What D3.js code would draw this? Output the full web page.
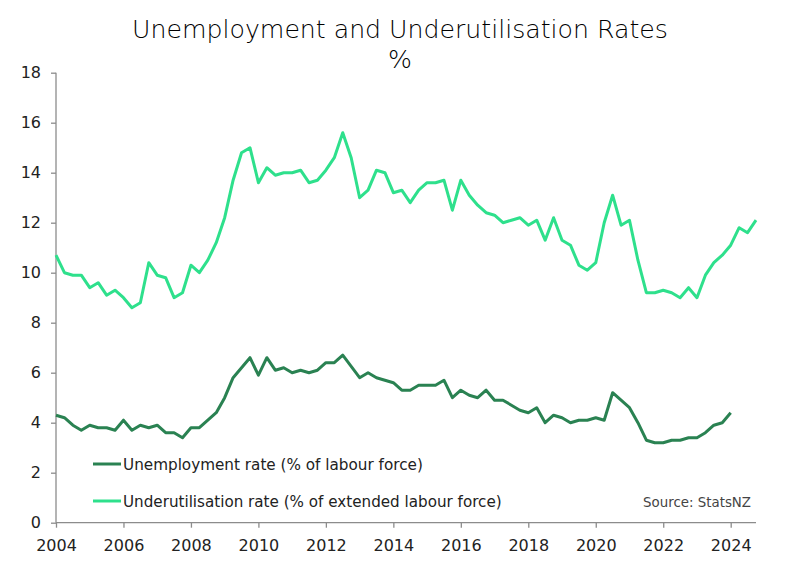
<!DOCTYPE html>
<html>
<head>
<meta charset="utf-8">
<script src="https://cdn.jsdelivr.net/npm/d3@7"></script>
<style>
  html, body { margin: 0; padding: 0; background: #fff; }
  svg { display: block; font-family: "DejaVu Sans", sans-serif; }
</style>
</head>
<body>
<svg id="chart" width="800" height="577"></svg>
<script>
// ---- data (quarterly, starting 2004 Q1) ----
const startYear = 2004;
const unemployment = [
  4.3,4.2,3.9,3.7,3.9,3.8,3.8,3.7,4.1,3.7,
  3.9,3.8,3.9,3.6,3.6,3.4,3.8,3.8,4.1,4.4,
  5.0,5.8,6.2,6.6,5.9,6.6,6.1,6.2,6.0,6.1,
  6.0,6.1,6.4,6.4,6.7,6.25,5.8,6.0,5.8,5.7,
  5.6,5.3,5.3,5.5,5.5,5.5,5.7,5.0,5.3,5.1,
  5.0,5.3,4.9,4.9,4.7,4.5,4.4,4.6,4.0,4.3,
  4.2,4.0,4.1,4.1,4.2,4.1,5.2,4.9,4.6,4.0,
  3.3,3.2,3.2,3.3,3.3,3.4,3.4,3.6,3.9,4.0,
  4.4
];
const underutilisation = [
  10.7,10.0,9.9,9.9,9.4,9.6,9.1,9.3,9.0,8.6,
  8.8,10.4,9.9,9.8,9.0,9.2,10.3,10.0,10.5,11.2,
  12.2,13.7,14.8,15.0,13.6,14.2,13.9,14.0,14.0,14.1,
  13.6,13.7,14.1,14.6,15.6,14.6,13.0,13.3,14.1,14.0,
  13.2,13.3,12.8,13.3,13.6,13.6,13.7,12.5,13.7,13.1,
  12.7,12.4,12.3,12.0,12.1,12.2,11.9,12.1,11.3,12.2,
  11.3,11.1,10.3,10.1,10.4,12.0,13.1,11.9,12.1,10.5,
  9.2,9.2,9.3,9.2,9.0,9.4,9.0,9.9,10.4,10.7,
  11.1,11.8,11.6,12.1
];
const xTicks = [2004,2006,2008,2010,2012,2014,2016,2018,2020,2022,2024];
const yTicks = [0,2,4,6,8,10,12,14,16,18];
const seriesNames = ["Unemployment rate (% of labour force)", "Underutilisation rate (% of extended labour force)"];
const titleText = "Unemployment and Underutilisation Rates";
const subtitleText = "%";
const sourceText = "Source: StatsNZ";

// ---- layout ----
const svg = d3.select("#chart");
const mLeft = 56, mRight = 756, mTop = 72.7, mBottom = 522.7;
const x = d3.scaleLinear().domain([2004, 2024.75]).range([mLeft, mRight]);
const y = d3.scaleLinear().domain([0, 18]).range([mBottom, mTop]);
const axisColor = "#8c8c8c";
const textColor = "#222";
const colUnemp = "#2a8252";
const colUnder = "#2ee08c";

function fit(sel, target) {
  const w = sel.node().getComputedTextLength();
  const fs = parseFloat(sel.attr("font-size"));
  sel.attr("font-size", fs * target / w);
}

// title
const t1 = svg.append("text").attr("x", 400).attr("y", 38).attr("text-anchor", "middle")
  .attr("font-size", 26).attr("font-weight", 200).attr("fill", "#000").text(titleText);
fit(t1, 536);
svg.append("text").attr("x", 400).attr("y", 68).attr("text-anchor", "middle")
  .attr("font-size", t1.attr("font-size")).attr("font-weight", 200).attr("fill", "#000").text(subtitleText);

// axes
const yAxis = d3.axisLeft(y).tickValues(yTicks).tickSize(5).tickPadding(10).tickFormat(d3.format("d"));
const gy = svg.append("g").attr("transform", `translate(${mLeft},0)`).call(yAxis);
const xAxis = d3.axisBottom(x).tickValues(xTicks).tickSize(5).tickPadding(12).tickFormat(d3.format("d"));
const gx = svg.append("g").attr("transform", `translate(0,${mBottom})`).call(xAxis);
[gx, gy].forEach(g => {
  g.select(".domain").attr("stroke", axisColor).attr("stroke-width", 1.3);
  g.selectAll(".tick line").attr("stroke", axisColor).attr("stroke-width", 1.3);
  g.selectAll(".tick text").attr("fill", textColor).attr("font-size", 16)
    .attr("font-family", "DejaVu Sans, sans-serif");
});
gy.select(".domain").attr("d", `M0,${mBottom}V${mTop}`);
gx.select(".domain").attr("d", `M${mLeft},0H${mRight}`);

// lines
const line = d3.line().x((d, i) => x(startYear + i / 4)).y(d => y(d));
svg.append("path").datum(underutilisation).attr("d", line)
  .attr("fill", "none").attr("stroke", colUnder).attr("stroke-width", 3).attr("stroke-linejoin", "round");
svg.append("path").datum(unemployment).attr("d", line)
  .attr("fill", "none").attr("stroke", colUnemp).attr("stroke-width", 3).attr("stroke-linejoin", "round");

// legend
const legY = [464, 501];
const legCols = [colUnemp, colUnder];
const legTargets = [300, 379];
seriesNames.forEach((name, i) => {
  svg.append("line").attr("x1", 93).attr("x2", 121).attr("y1", legY[i]).attr("y2", legY[i])
    .attr("stroke", legCols[i]).attr("stroke-width", 3);
  const lt = svg.append("text").attr("x", 123).attr("y", legY[i] + 6).attr("font-size", 16)
    .attr("fill", textColor).text(name);
  fit(lt, legTargets[i]);
});
// source
const st = svg.append("text").attr("x", 751).attr("y", 507).attr("text-anchor", "end")
  .attr("font-size", 14).attr("fill", "#444").text(sourceText);
fit(st, 108);
</script>
</body>
</html>
